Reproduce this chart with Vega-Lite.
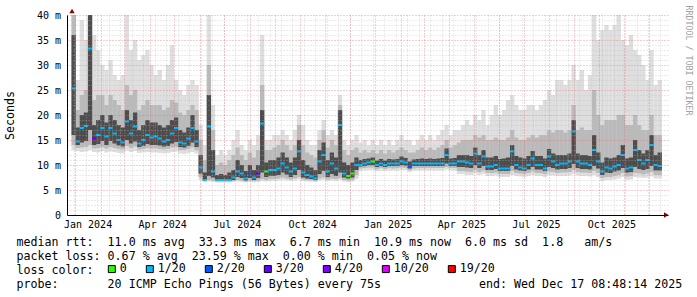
{
"$schema": "https://vega.github.io/schema/vega-lite/v6.json",
"width": 601, "height": 200,
"autosize": {"type": "none"},
"padding": {"left": 67, "top": 15, "right": 29, "bottom": 82},
"background": "white",
"config": {"view": {"stroke": null}, "legend": {"labelFont": "DejaVu Sans Mono", "labelFontSize": 11.65, "labelColor": "#000"}},
"data": {"values": [
{"t":"2023-12-30","lo":13,"p10":14,"p25":16,"med":25.3,"p75":36,"p90":40,"hi":40,"loss":"1/20"},
{"t":"2024-01-04","lo":12.8,"p10":13.4,"p25":14,"med":14.7,"p75":17.5,"p90":21,"hi":27,"loss":"1/20"},
{"t":"2024-01-09","lo":12.6,"p10":13.5,"p25":14.5,"med":17.4,"p75":20,"p90":24,"hi":39,"loss":"1/20"},
{"t":"2024-01-14","lo":12.7,"p10":13.6,"p25":14.8,"med":17.8,"p75":20.5,"p90":25,"hi":35,"loss":"1/20"},
{"t":"2024-01-19","lo":13,"p10":14,"p25":17,"med":33.3,"p75":40,"p90":40,"hi":40,"loss":"1/20"},
{"t":"2024-01-24","lo":12.6,"p10":13.3,"p25":14,"med":15.3,"p75":18,"p90":23,"hi":36,"loss":"3/20"},
{"t":"2024-01-29","lo":12.5,"p10":13.4,"p25":14.2,"med":16,"p75":19,"p90":24,"hi":33,"loss":"1/20"},
{"t":"2024-02-03","lo":12.8,"p10":13.6,"p25":14.8,"med":17.4,"p75":20,"p90":24,"hi":30,"loss":"1/20"},
{"t":"2024-02-08","lo":12.5,"p10":13.3,"p25":14,"med":15.7,"p75":18.5,"p90":22,"hi":29,"loss":"1/20"},
{"t":"2024-02-13","lo":12.7,"p10":13.6,"p25":14.8,"med":17.4,"p75":20,"p90":24,"hi":31,"loss":"1/20"},
{"t":"2024-02-18","lo":12.6,"p10":13.4,"p25":14.3,"med":16.3,"p75":19,"p90":23,"hi":28,"loss":"1/20"},
{"t":"2024-02-23","lo":12.4,"p10":13.2,"p25":13.9,"med":15,"p75":18,"p90":22,"hi":27,"loss":"1/20"},
{"t":"2024-02-28","lo":12.3,"p10":13.1,"p25":13.7,"med":14.5,"p75":17.5,"p90":21,"hi":28,"loss":"1/20"},
{"t":"2024-03-04","lo":12.9,"p10":13.8,"p25":15,"med":18.7,"p75":21,"p90":26,"hi":40,"loss":"1/20"},
{"t":"2024-03-09","lo":12.6,"p10":13.4,"p25":14.3,"med":16.3,"p75":19,"p90":24,"hi":33,"loss":"1/20"},
{"t":"2024-03-14","lo":12.8,"p10":13.7,"p25":14.7,"med":17.7,"p75":20.5,"p90":25,"hi":35,"loss":"1/20"},
{"t":"2024-03-19","lo":12.4,"p10":13.1,"p25":13.6,"med":14.3,"p75":17,"p90":21,"hi":31,"loss":"1/20"},
{"t":"2024-03-24","lo":12.5,"p10":13.2,"p25":13.8,"med":15,"p75":18,"p90":22,"hi":32,"loss":"1/20"},
{"t":"2024-03-29","lo":12.6,"p10":13.4,"p25":14.2,"med":16,"p75":19,"p90":23,"hi":33,"loss":"1/20"},
{"t":"2024-04-03","lo":12.5,"p10":13.3,"p25":14,"med":15.5,"p75":18.5,"p90":22,"hi":30,"loss":"1/20"},
{"t":"2024-04-08","lo":12.5,"p10":13.3,"p25":14,"med":15.7,"p75":18.5,"p90":22,"hi":28,"loss":"1/20"},
{"t":"2024-04-13","lo":12.4,"p10":13.2,"p25":13.9,"med":15.3,"p75":18,"p90":22,"hi":29,"loss":"1/20"},
{"t":"2024-04-18","lo":12.3,"p10":13.1,"p25":13.7,"med":14.7,"p75":17.5,"p90":21,"hi":27,"loss":"1/20"},
{"t":"2024-04-23","lo":12.4,"p10":13.2,"p25":13.8,"med":15,"p75":18,"p90":21.5,"hi":30,"loss":"1/20"},
{"t":"2024-04-28","lo":12.6,"p10":13.5,"p25":14.3,"med":16.3,"p75":19,"p90":23,"hi":34,"loss":"1/20"},
{"t":"2024-05-03","lo":12.7,"p10":13.6,"p25":14.6,"med":17.4,"p75":19.5,"p90":22.5,"hi":27,"loss":"1/20"},
{"t":"2024-05-08","lo":12.3,"p10":13,"p25":13.6,"med":14.5,"p75":17,"p90":20.5,"hi":25,"loss":"1/20"},
{"t":"2024-05-13","lo":12.2,"p10":13,"p25":13.5,"med":14.3,"p75":16.5,"p90":20,"hi":24,"loss":"1/20"},
{"t":"2024-05-18","lo":12.4,"p10":13.2,"p25":13.8,"med":15.3,"p75":17.5,"p90":21,"hi":26,"loss":"1/20"},
{"t":"2024-05-23","lo":12.6,"p10":13.5,"p25":14.5,"med":17.4,"p75":20,"p90":22,"hi":27,"loss":"1/20"},
{"t":"2024-05-28","lo":12.3,"p10":13,"p25":13.6,"med":14.7,"p75":17,"p90":21,"hi":26,"loss":"1/20"},
{"t":"2024-06-02","lo":7,"p10":7.6,"p25":8.3,"med":9.5,"p75":12,"p90":15,"hi":18,"loss":"1/20"},
{"t":"2024-06-07","lo":6.6,"p10":6.8,"p25":6.9,"med":7,"p75":8.5,"p90":11,"hi":14,"loss":"1/20"},
{"t":"2024-06-12","lo":6.7,"p10":7,"p25":7.8,"med":17.7,"p75":24,"p90":30,"hi":40,"loss":"1/20"},
{"t":"2024-06-17","lo":6.6,"p10":6.9,"p25":7.5,"med":8.7,"p75":13,"p90":17,"hi":22,"loss":"1/20"},
{"t":"2024-06-22","lo":6.5,"p10":6.7,"p25":6.8,"med":7,"p75":8,"p90":10,"hi":12,"loss":"1/20"},
{"t":"2024-06-27","lo":6.5,"p10":6.7,"p25":6.8,"med":7,"p75":8.2,"p90":10.5,"hi":13,"loss":"1/20"},
{"t":"2024-07-02","lo":6.5,"p10":6.7,"p25":6.8,"med":7,"p75":8,"p90":10,"hi":12,"loss":"1/20"},
{"t":"2024-07-07","lo":6.5,"p10":6.7,"p25":6.8,"med":7,"p75":8.5,"p90":11,"hi":13,"loss":"1/20"},
{"t":"2024-07-12","lo":6.6,"p10":6.8,"p25":7,"med":7.5,"p75":9,"p90":12,"hi":15,"loss":"1/20"},
{"t":"2024-07-17","lo":6.7,"p10":7,"p25":7.6,"med":8.7,"p75":11,"p90":13.5,"hi":17,"loss":"1/20"},
{"t":"2024-07-22","lo":6.6,"p10":6.9,"p25":7.4,"med":8.3,"p75":10,"p90":12,"hi":14,"loss":"1/20"},
{"t":"2024-07-27","lo":6.5,"p10":6.7,"p25":6.9,"med":7.3,"p75":8.8,"p90":11,"hi":13,"loss":"1/20"},
{"t":"2024-08-01","lo":6.6,"p10":6.9,"p25":7.4,"med":8.3,"p75":10,"p90":12.5,"hi":15,"loss":"2/20"},
{"t":"2024-08-06","lo":6.5,"p10":6.8,"p25":7,"med":7.5,"p75":9,"p90":11.5,"hi":14,"loss":"1/20"},
{"t":"2024-08-11","lo":6.6,"p10":6.9,"p25":7.4,"med":8.3,"p75":10,"p90":13,"hi":16,"loss":"3/20"},
{"t":"2024-08-16","lo":6.8,"p10":7.2,"p25":8.5,"med":18.3,"p75":21,"p90":26,"hi":36,"loss":"1/20"},
{"t":"2024-08-21","lo":6.7,"p10":7,"p25":7.6,"med":8.7,"p75":10.5,"p90":13,"hi":15,"loss":"0"},
{"t":"2024-08-26","lo":6.8,"p10":7.2,"p25":7.8,"med":9,"p75":11,"p90":13,"hi":15,"loss":"1/20"},
{"t":"2024-08-31","lo":6.8,"p10":7.2,"p25":7.8,"med":9,"p75":11,"p90":13.5,"hi":16,"loss":"1/20"},
{"t":"2024-09-05","lo":6.9,"p10":7.3,"p25":8,"med":9.3,"p75":11.5,"p90":14,"hi":16,"loss":"1/20"},
{"t":"2024-09-10","lo":7,"p10":7.5,"p25":8.5,"med":10.3,"p75":12.5,"p90":15,"hi":17,"loss":"1/20"},
{"t":"2024-09-15","lo":6.9,"p10":7.3,"p25":8.1,"med":9.5,"p75":11.5,"p90":14,"hi":16,"loss":"1/20"},
{"t":"2024-09-20","lo":6.8,"p10":7.1,"p25":7.6,"med":8.7,"p75":10.5,"p90":13,"hi":15,"loss":"1/20"},
{"t":"2024-09-25","lo":6.9,"p10":7.3,"p25":8,"med":9.3,"p75":11.5,"p90":14,"hi":17,"loss":"1/20"},
{"t":"2024-09-30","lo":7.1,"p10":7.6,"p25":9,"med":12.7,"p75":15,"p90":18,"hi":20,"loss":"1/20"},
{"t":"2024-10-05","lo":6.8,"p10":7.1,"p25":7.5,"med":8.5,"p75":11,"p90":14,"hi":18,"loss":"1/20"},
{"t":"2024-10-10","lo":6.7,"p10":7,"p25":7.3,"med":8,"p75":10,"p90":12.5,"hi":15,"loss":"1/20"},
{"t":"2024-10-15","lo":6.7,"p10":6.9,"p25":7.2,"med":7.7,"p75":9.5,"p90":12,"hi":14,"loss":"1/20"},
{"t":"2024-10-20","lo":6.6,"p10":6.8,"p25":7,"med":7.3,"p75":9,"p90":11.5,"hi":14,"loss":"1/20"},
{"t":"2024-10-25","lo":6.9,"p10":7.3,"p25":8.2,"med":10.7,"p75":13,"p90":15,"hi":17,"loss":"1/20"},
{"t":"2024-10-30","lo":7,"p10":7.5,"p25":8.8,"med":12,"p75":14.5,"p90":17,"hi":19,"loss":"1/20"},
{"t":"2024-11-04","lo":6.8,"p10":7.1,"p25":7.6,"med":8.7,"p75":11,"p90":13.5,"hi":16,"loss":"1/20"},
{"t":"2024-11-09","lo":6.9,"p10":7.3,"p25":8.2,"med":10.3,"p75":12.5,"p90":15,"hi":17,"loss":"1/20"},
{"t":"2024-11-14","lo":6.8,"p10":7.2,"p25":7.8,"med":9.3,"p75":11.5,"p90":14,"hi":16,"loss":"1/20"},
{"t":"2024-11-19","lo":7,"p10":7.4,"p25":8.5,"med":18,"p75":21,"p90":22,"hi":24,"loss":"1/20"},
{"t":"2024-11-24","lo":6.7,"p10":7,"p25":7.5,"med":8.3,"p75":10.5,"p90":13,"hi":15,"loss":"1/20"},
{"t":"2024-11-29","lo":6.6,"p10":6.9,"p25":7.3,"med":7.8,"p75":10,"p90":12,"hi":14,"loss":"0"},
{"t":"2024-12-04","lo":6.7,"p10":7,"p25":7.5,"med":8.3,"p75":10.5,"p90":13,"hi":15,"loss":"0"},
{"t":"2024-12-09","lo":7.2,"p10":8,"p25":9,"med":10,"p75":11.5,"p90":13.5,"hi":16,"loss":"1/20"},
{"t":"2024-12-14","lo":8.8,"p10":9.3,"p25":9.7,"med":10,"p75":11,"p90":12.5,"hi":14.5,"loss":"1/20"},
{"t":"2024-12-19","lo":8.9,"p10":9.4,"p25":9.8,"med":10.3,"p75":11.2,"p90":13,"hi":15,"loss":"1/20"},
{"t":"2024-12-24","lo":9,"p10":9.5,"p25":10,"med":10.5,"p75":11.3,"p90":12.5,"hi":14,"loss":"1/20"},
{"t":"2024-12-29","lo":9,"p10":9.5,"p25":10,"med":10.7,"p75":11.5,"p90":13,"hi":15,"loss":"0"},
{"t":"2025-01-03","lo":8.8,"p10":9.2,"p25":9.6,"med":10,"p75":10.9,"p90":12.3,"hi":14,"loss":"1/20"},
{"t":"2025-01-08","lo":8.9,"p10":9.4,"p25":9.8,"med":10.3,"p75":11.2,"p90":13,"hi":15,"loss":"1/20"},
{"t":"2025-01-13","lo":8.8,"p10":9.2,"p25":9.6,"med":10,"p75":10.9,"p90":12.3,"hi":14,"loss":"1/20"},
{"t":"2025-01-18","lo":8.9,"p10":9.4,"p25":9.8,"med":10.3,"p75":11.2,"p90":13,"hi":15,"loss":"1/20"},
{"t":"2025-01-23","lo":8.9,"p10":9.3,"p25":9.8,"med":10.3,"p75":11.1,"p90":12.5,"hi":14,"loss":"1/20"},
{"t":"2025-01-28","lo":8.9,"p10":9.4,"p25":9.8,"med":10.3,"p75":11.2,"p90":13,"hi":15,"loss":"1/20"},
{"t":"2025-02-02","lo":9,"p10":9.5,"p25":10,"med":10.7,"p75":11.7,"p90":13.5,"hi":16,"loss":"1/20"},
{"t":"2025-02-07","lo":9,"p10":9.4,"p25":9.9,"med":10.5,"p75":11.4,"p90":13,"hi":15,"loss":"1/20"},
{"t":"2025-02-12","lo":8.6,"p10":9,"p25":9.3,"med":9.7,"p75":10.7,"p90":12.5,"hi":15,"loss":"2/20"},
{"t":"2025-02-17","lo":8.9,"p10":9.3,"p25":9.8,"med":10.3,"p75":11.1,"p90":12.5,"hi":14,"loss":"1/20"},
{"t":"2025-02-22","lo":8.9,"p10":9.4,"p25":9.8,"med":10.3,"p75":11.2,"p90":13,"hi":15,"loss":"1/20"},
{"t":"2025-02-27","lo":8.9,"p10":9.4,"p25":9.8,"med":10.3,"p75":11.3,"p90":13.5,"hi":16,"loss":"1/20"},
{"t":"2025-03-04","lo":8.9,"p10":9.4,"p25":9.8,"med":10.3,"p75":11.2,"p90":13,"hi":15,"loss":"1/20"},
{"t":"2025-03-09","lo":8.9,"p10":9.4,"p25":9.8,"med":10.3,"p75":11.3,"p90":13.5,"hi":16,"loss":"1/20"},
{"t":"2025-03-14","lo":8.9,"p10":9.4,"p25":9.8,"med":10.3,"p75":11.2,"p90":13,"hi":15,"loss":"1/20"},
{"t":"2025-03-19","lo":8.9,"p10":9.4,"p25":9.8,"med":10.3,"p75":11.3,"p90":13.5,"hi":16,"loss":"1/20"},
{"t":"2025-03-24","lo":8.9,"p10":9.4,"p25":9.8,"med":10.3,"p75":11.4,"p90":14,"hi":17,"loss":"1/20"},
{"t":"2025-03-29","lo":9.1,"p10":9.6,"p25":10.3,"med":12,"p75":13.3,"p90":15,"hi":18,"loss":"1/20"},
{"t":"2025-04-03","lo":8.9,"p10":9.4,"p25":9.8,"med":10.3,"p75":11.3,"p90":13.5,"hi":16,"loss":"1/20"},
{"t":"2025-04-08","lo":8.9,"p10":9.4,"p25":9.8,"med":10.3,"p75":11.4,"p90":14,"hi":17,"loss":"1/20"},
{"t":"2025-04-13","lo":8.2,"p10":8.8,"p25":9.6,"med":10.7,"p75":12,"p90":14.5,"hi":17,"loss":"1/20"},
{"t":"2025-04-18","lo":8.2,"p10":8.8,"p25":9.6,"med":10.7,"p75":12,"p90":15,"hi":18,"loss":"1/20"},
{"t":"2025-04-23","lo":8,"p10":8.7,"p25":9.5,"med":10.5,"p75":12,"p90":15,"hi":19,"loss":"1/20"},
{"t":"2025-04-28","lo":8,"p10":8.6,"p25":9.4,"med":10.3,"p75":11.8,"p90":15,"hi":18,"loss":"1/20"},
{"t":"2025-05-03","lo":8.3,"p10":9,"p25":10,"med":12.3,"p75":13.5,"p90":16,"hi":20,"loss":"1/20"},
{"t":"2025-05-08","lo":8,"p10":8.6,"p25":9.4,"med":10.3,"p75":12,"p90":15.5,"hi":19,"loss":"1/20"},
{"t":"2025-05-13","lo":8.2,"p10":8.9,"p25":9.8,"med":11.7,"p75":13,"p90":16,"hi":21,"loss":"1/20"},
{"t":"2025-05-18","lo":7.8,"p10":8.4,"p25":9,"med":9.7,"p75":11.5,"p90":15,"hi":18,"loss":"1/20"},
{"t":"2025-05-23","lo":7.8,"p10":8.4,"p25":9,"med":9.7,"p75":11.5,"p90":15,"hi":20,"loss":"1/20"},
{"t":"2025-05-28","lo":7.9,"p10":8.5,"p25":9.2,"med":10,"p75":11.8,"p90":15.5,"hi":22,"loss":"1/20"},
{"t":"2025-06-02","lo":7.6,"p10":8.2,"p25":8.8,"med":9.3,"p75":11.2,"p90":15,"hi":20,"loss":"1/20"},
{"t":"2025-06-07","lo":7.6,"p10":8.2,"p25":8.8,"med":9.3,"p75":11.3,"p90":15,"hi":21,"loss":"1/20"},
{"t":"2025-06-12","lo":7.6,"p10":8.2,"p25":8.8,"med":9.3,"p75":11.5,"p90":15.5,"hi":23,"loss":"1/20"},
{"t":"2025-06-17","lo":8,"p10":8.8,"p25":9.8,"med":12.7,"p75":14,"p90":17,"hi":24,"loss":"1/20"},
{"t":"2025-06-22","lo":7.8,"p10":8.4,"p25":9.1,"med":10,"p75":11.8,"p90":15.5,"hi":22,"loss":"1/20"},
{"t":"2025-06-27","lo":7.7,"p10":8.3,"p25":8.9,"med":9.5,"p75":11.5,"p90":15,"hi":21,"loss":"1/20"},
{"t":"2025-07-02","lo":7.6,"p10":8.2,"p25":8.8,"med":9.3,"p75":11.3,"p90":15,"hi":21,"loss":"1/20"},
{"t":"2025-07-07","lo":7.8,"p10":8.4,"p25":9.1,"med":10,"p75":11.8,"p90":15.5,"hi":22,"loss":"1/20"},
{"t":"2025-07-12","lo":8,"p10":8.7,"p25":9.6,"med":11.3,"p75":12.8,"p90":16,"hi":22,"loss":"1/20"},
{"t":"2025-07-17","lo":7.8,"p10":8.4,"p25":9.1,"med":10,"p75":11.8,"p90":15.5,"hi":21,"loss":"1/20"},
{"t":"2025-07-22","lo":7.8,"p10":8.4,"p25":9.1,"med":10,"p75":11.8,"p90":16,"hi":22,"loss":"1/20"},
{"t":"2025-07-27","lo":7.6,"p10":8.2,"p25":8.8,"med":9.3,"p75":11.3,"p90":16,"hi":23,"loss":"1/20"},
{"t":"2025-08-01","lo":8,"p10":8.7,"p25":9.6,"med":11.7,"p75":13.2,"p90":17,"hi":25,"loss":"1/20"},
{"t":"2025-08-06","lo":7.9,"p10":8.6,"p25":9.4,"med":10.7,"p75":12.3,"p90":16.5,"hi":24,"loss":"1/20"},
{"t":"2025-08-11","lo":7.8,"p10":8.4,"p25":9.1,"med":10,"p75":12,"p90":17,"hi":27,"loss":"1/20"},
{"t":"2025-08-16","lo":7.8,"p10":8.5,"p25":9.2,"med":10.3,"p75":12,"p90":17,"hi":27,"loss":"1/20"},
{"t":"2025-08-21","lo":7.8,"p10":8.5,"p25":9.2,"med":10.3,"p75":12,"p90":16.5,"hi":26,"loss":"1/20"},
{"t":"2025-08-26","lo":7.9,"p10":8.6,"p25":9.4,"med":10.7,"p75":12.3,"p90":17,"hi":27,"loss":"1/20"},
{"t":"2025-08-31","lo":8.2,"p10":9,"p25":10.2,"med":16.7,"p75":19,"p90":22,"hi":30,"loss":"1/20"},
{"t":"2025-09-05","lo":7.9,"p10":8.6,"p25":9.4,"med":10.7,"p75":12.3,"p90":17,"hi":27,"loss":"1/20"},
{"t":"2025-09-10","lo":7.8,"p10":8.5,"p25":9.2,"med":10.3,"p75":12,"p90":17.5,"hi":29,"loss":"1/20"},
{"t":"2025-09-15","lo":7.8,"p10":8.5,"p25":9.2,"med":10.3,"p75":12,"p90":17,"hi":25,"loss":"1/20"},
{"t":"2025-09-20","lo":7.7,"p10":8.4,"p25":9.1,"med":10,"p75":11.8,"p90":17,"hi":28,"loss":"1/20"},
{"t":"2025-09-25","lo":8,"p10":8.8,"p25":9.8,"med":13,"p75":16,"p90":25,"hi":40,"loss":"1/20"},
{"t":"2025-09-30","lo":7.6,"p10":8.4,"p25":9.3,"med":10.7,"p75":12.5,"p90":20,"hi":35,"loss":"1/20"},
{"t":"2025-10-05","lo":6.8,"p10":7.4,"p25":8,"med":8.7,"p75":10.5,"p90":18,"hi":37,"loss":"1/20"},
{"t":"2025-10-10","lo":7,"p10":7.6,"p25":8.5,"med":9.5,"p75":11.5,"p90":19,"hi":38,"loss":"1/20"},
{"t":"2025-10-15","lo":7,"p10":7.6,"p25":8.4,"med":9.3,"p75":11.3,"p90":19,"hi":37,"loss":"1/20"},
{"t":"2025-10-20","lo":7.1,"p10":7.8,"p25":8.7,"med":9.7,"p75":11.5,"p90":19,"hi":38,"loss":"1/20"},
{"t":"2025-10-25","lo":7.3,"p10":8,"p25":8.9,"med":10,"p75":12,"p90":20,"hi":40,"loss":"1/20"},
{"t":"2025-10-30","lo":7.6,"p10":8.4,"p25":9.4,"med":12,"p75":14,"p90":20,"hi":35,"loss":"1/20"},
{"t":"2025-11-04","lo":7,"p10":7.7,"p25":8.5,"med":9.3,"p75":11.3,"p90":18,"hi":34,"loss":"1/20"},
{"t":"2025-11-09","lo":7.1,"p10":7.8,"p25":8.6,"med":9.5,"p75":11.5,"p90":18,"hi":36,"loss":"1/20"},
{"t":"2025-11-14","lo":7.6,"p10":8.4,"p25":9.6,"med":13,"p75":15,"p90":20,"hi":33,"loss":"1/20"},
{"t":"2025-11-19","lo":7.5,"p10":8.3,"p25":9.2,"med":11,"p75":13,"p90":18,"hi":32,"loss":"1/20"},
{"t":"2025-11-24","lo":7.4,"p10":8.1,"p25":9,"med":10.3,"p75":12.3,"p90":17,"hi":30,"loss":"1/20"},
{"t":"2025-11-29","lo":7.5,"p10":8.3,"p25":9.2,"med":11,"p75":13,"p90":17,"hi":27,"loss":"1/20"},
{"t":"2025-12-04","lo":7.7,"p10":8.6,"p25":9.8,"med":14,"p75":16,"p90":20,"hi":33,"loss":"1/20"},
{"t":"2025-12-09","lo":7.3,"p10":8,"p25":8.9,"med":10,"p75":12,"p90":16,"hi":26,"loss":"1/20"},
{"t":"2025-12-14","lo":7.3,"p10":8,"p25":8.9,"med":9.8,"p75":12.5,"p90":16,"hi":27,"loss":"1/20"}
]},
"layer": [
{
 "mark": {"type": "bar", "width": 4.3, "color": "#dedede", "clip": true},
 "encoding": {
  "x": {"field": "t", "type": "temporal",
   "scale": {"type": "utc", "domain": [{"year":2023,"month":12,"date":28,"utc":true},{"year":2025,"month":12,"date":18,"utc":true}]},
   "axis": {"orient": "bottom", "grid": true, "gridColor": "#b8b8b8", "gridOpacity": 0.55, "gridDash": [1,2], "gridWidth": 1, "tickCount": {"interval": "week", "step": 2}, "labels": false, "ticks": false, "domain": false, "title": null, "zindex": 1}},
  "y": {"field": "lo", "type": "quantitative",
   "scale": {"domain": [0, 40], "nice": false, "zero": false},
   "axis": {"orient": "left", "grid": true, "gridColor": "#b8b8b8", "gridOpacity": 0.55, "gridDash": [1,2], "gridWidth": 1, "values": [1,2,3,4,6,7,8,9,11,12,13,14,16,17,18,19,21,22,23,24,26,27,28,29,31,32,33,34,36,37,38,39], "labels": false, "ticks": false, "domain": false, "title": null, "zindex": 1}},
  "y2": {"field": "hi"}
 }
},
{
 "mark": {"type": "bar", "width": 4.3, "color": "#bababa", "clip": true},
 "encoding": {
  "x": {"field": "t", "type": "temporal",
   "scale": {"type": "utc", "domain": [{"year":2023,"month":12,"date":28,"utc":true},{"year":2025,"month":12,"date":18,"utc":true}]},
   "axis": {"orient": "bottom", "grid": true, "gridColor": "#e06060", "gridOpacity": 0.6, "gridDash": [1,2], "gridWidth": 1, "tickCount": {"interval": "month", "step": 1}, "labels": false, "ticks": false, "domain": false, "title": null, "zindex": 1}},
  "y": {"field": "p10", "type": "quantitative",
   "scale": {"domain": [0, 40], "nice": false, "zero": false},
   "axis": {"orient": "left", "grid": true, "gridColor": "#e06060", "gridOpacity": 0.6, "gridDash": [1,2], "gridWidth": 1, "values": [5,10,15,20,25,30,35,40], "labels": false, "ticks": false, "domain": false, "title": null, "zindex": 1}},
  "y2": {"field": "p90"}
 }
},
{
 "mark": {"type": "bar", "width": 4.3, "color": "#4d4d4d", "clip": true},
 "encoding": {
  "x": {"field": "t", "type": "temporal",
   "scale": {"type": "utc", "domain": [{"year":2023,"month":12,"date":28,"utc":true},{"year":2025,"month":12,"date":18,"utc":true}]},
   "axis": {"orient": "bottom", "grid": false, "ticks": false, "domain": true, "domainColor": "#000", "domainWidth": 1,
    "values": [{"year":2024,"month":1,"date":16,"utc":true},{"year":2024,"month":4,"date":16,"utc":true},{"year":2024,"month":7,"date":16,"utc":true},{"year":2024,"month":10,"date":16,"utc":true},{"year":2025,"month":1,"date":16,"utc":true},{"year":2025,"month":4,"date":16,"utc":true},{"year":2025,"month":7,"date":16,"utc":true},{"year":2025,"month":10,"date":16,"utc":true}],
    "format": "%b %Y", "labelFont": "DejaVu Sans Mono", "labelFontSize": 10, "labelColor": "#000", "labelPadding": 4, "labelFlush": false, "labelOverlap": false,
    "title": ["median\u00a0rtt:\u00a0\u00a011.0\u00a0ms\u00a0avg\u00a0\u00a033.3\u00a0ms\u00a0max\u00a0\u00a06.7\u00a0ms\u00a0min\u00a0\u00a010.9\u00a0ms\u00a0now\u00a0\u00a06.0\u00a0ms\u00a0sd\u00a0\u00a01.8\u00a0\u00a0\u00a0am/s", "packet\u00a0loss:\u00a00.67\u00a0%\u00a0avg\u00a0\u00a023.59\u00a0%\u00a0max\u00a0\u00a00.00\u00a0%\u00a0min\u00a0\u00a00.05\u00a0%\u00a0now", "loss\u00a0color:", "probe:\u00a0\u00a0\u00a0\u00a0\u00a0\u00a0\u00a020\u00a0ICMP\u00a0Echo\u00a0Pings\u00a0(56\u00a0Bytes)\u00a0every\u00a075s\u00a0\u00a0\u00a0\u00a0\u00a0\u00a0\u00a0\u00a0\u00a0\u00a0\u00a0\u00a0\u00a0\u00a0end:\u00a0Wed\u00a0Dec\u00a017\u00a008:48:14\u00a02025"],
    "titleFont": "DejaVu Sans Mono", "titleFontSize": 11.65, "titleFontWeight": "normal", "titleColor": "#000", "titleLineHeight": 14,
    "titleX": -51, "titleY": 30, "titleAlign": "left", "titleBaseline": "alphabetic", "titleAngle": 0, "zindex": 1}},
  "y": {"field": "p25", "type": "quantitative",
   "scale": {"domain": [0, 40], "nice": false, "zero": false},
   "axis": {"orient": "left", "grid": false, "ticks": false, "domain": true, "domainColor": "#000", "domainWidth": 1,
    "values": [0,5,10,15,20,25,30,35,40], "labelExpr": "datum.value == 0 ? '0' : datum.value + ' m'",
    "labelFont": "DejaVu Sans Mono", "labelFontSize": 10, "labelColor": "#000", "labelPadding": 6.5, "labelFlush": false,
    "title": "Seconds", "titleFont": "DejaVu Sans Mono", "titleFontSize": 11.65, "titleFontWeight": "normal", "titleColor": "#000",
    "titleX": -57, "titleY": 100, "titleAngle": 270, "titleAlign": "center", "titleBaseline": "middle", "zindex": 1}},
  "y2": {"field": "p75"}
 }
},
{
 "mark": {"type": "tick", "orient": "horizontal", "size": 4.3, "thickness": 2, "opacity": 1, "clip": true},
 "encoding": {
  "x": {"field": "t", "type": "temporal",
   "scale": {"type": "utc", "domain": [{"year":2023,"month":12,"date":28,"utc":true},{"year":2025,"month":12,"date":18,"utc":true}]},
   "axis": null},
  "y": {"field": "med", "type": "quantitative",
   "scale": {"domain": [0, 40], "nice": false, "zero": false},
   "axis": {"orient": "right", "grid": false, "labels": false, "ticks": false, "domain": false,
    "title": "RRDTOOL / TOBI OETIKER", "titleFont": "DejaVu Sans Mono", "titleFontSize": 8.3, "titleFontWeight": "normal", "titleColor": "#a0a0a0",
    "titleX": 19, "titleY": 45, "titleAngle": 90, "titleAlign": "center", "titleBaseline": "middle"}},
  "color": {"field": "loss", "type": "nominal",
   "scale": {"domain": ["0","1/20","2/20","3/20","4/20","10/20","19/20"], "range": ["#26ff00","#00b8ff","#0059ff","#5e00ff","#7e00ff","#dd00ff","#ff0000"]},
   "legend": {"orient": "none", "legendX": 41, "legendY": 248, "direction": "horizontal", "columns": 7, "gridAlign": "each", "title": null,
    "symbolType": "square", "symbolSize": 49, "symbolOffset": -2, "symbolStrokeColor": "#000", "symbolStrokeWidth": 1, "symbolOpacity": 1,
    "labelFont": "DejaVu Sans Mono", "labelFontSize": 11.65, "labelColor": "#000", "labelOffset": 2, "columnPadding": 17, "padding": 0,
    "encode": {"symbols": {"update": {"stroke": {"value": "#000"}, "strokeWidth": {"value": 1}}}}}}
 }
},
{
 "data": {"values": [{}]},
 "mark": {"type": "point", "shape": "triangle-up", "filled": true, "size": 28, "color": "#8b0000", "opacity": 1},
 "encoding": {
  "x": {"datum": {"year":2023,"month":12,"date":28,"utc":true}, "type": "temporal",
   "scale": {"type": "utc", "domain": [{"year":2023,"month":12,"date":28,"utc":true},{"year":2025,"month":12,"date":18,"utc":true}]}, "axis": null},
  "y": {"datum": 40.8, "type": "quantitative", "scale": {"domain": [0, 40], "nice": false, "zero": false}, "axis": null}
 }
},
{
 "data": {"values": [{}]},
 "mark": {"type": "point", "shape": "triangle-right", "filled": true, "size": 28, "color": "#8b0000", "opacity": 1},
 "encoding": {
  "x": {"datum": {"year":2025,"month":12,"date":22,"utc":true}, "type": "temporal",
   "scale": {"type": "utc", "domain": [{"year":2023,"month":12,"date":28,"utc":true},{"year":2025,"month":12,"date":18,"utc":true}]}, "axis": null},
  "y": {"datum": 0, "type": "quantitative", "scale": {"domain": [0, 40], "nice": false, "zero": false}, "axis": null}
 }
}
],
"resolve": {"axis": {"x": "independent", "y": "independent"}}
}
